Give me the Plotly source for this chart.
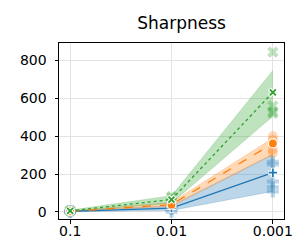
import plotly.graph_objects as go

x_labels = ["0.1", "0.01", "0.001"]
x_pos = [0, 1, 2]

blue_mean = [2, 20, 207]
blue_lo = [0, 7, 108]
blue_hi = [4, 34, 305]
orange_mean = [3, 38, 362]
orange_lo = [1, 28, 300]
orange_hi = [6, 50, 390]
green_mean = [5, 65, 632]
green_lo = [2, 45, 505]
green_hi = [9, 85, 748]

# individual runs (x index, value)
blue_pts_x = [0, 0, 0, 1, 1, 1, 2, 2, 2, 2, 2]
blue_pts_y = [1, 3, 2, 0, 15, 28, 265, 250, 160, 130, 108]
orange_pts_x = [0, 0, 0, 1, 1, 1, 2, 2, 2, 2]
orange_pts_y = [2, 4, 3, 30, 42, 48, 400, 380, 330, 312]
green_pts_x = [0, 0, 0, 1, 1, 1, 2, 2, 2, 2]
green_pts_y = [4, 7, 5, 55, 75, 82, 845, 560, 530, 520]

series = [
    ("#1f77b4", "rgba(31,119,180,0.3)", blue_mean, blue_lo, blue_hi, blue_pts_x, blue_pts_y, "solid", "cross", "cross-thin"),
    ("#ff7f0e", "rgba(255,127,14,0.3)", orange_mean, orange_lo, orange_hi, orange_pts_x, orange_pts_y, "dash", "circle", "circle"),
    ("#2ca02c", "rgba(44,160,44,0.3)", green_mean, green_lo, green_hi, green_pts_x, green_pts_y, "dot", "x", "x-thin"),
]

fig = go.Figure()
for color, fillc, mean, lo, hi, px, py, dash, ptsym, msym in series:
    fig.add_trace(go.Scatter(x=x_pos, y=lo, mode="lines", line=dict(width=0.6, color=fillc),
                             showlegend=False, hoverinfo="skip"))
    fig.add_trace(go.Scatter(x=x_pos, y=hi, mode="lines", line=dict(width=0.6, color=fillc),
                             fill="tonexty", fillcolor=fillc, showlegend=False, hoverinfo="skip"))
for color, fillc, mean, lo, hi, px, py, dash, ptsym, msym in series:
    fig.add_trace(go.Scatter(x=px, y=py, mode="markers",
                             marker=dict(symbol=ptsym, size=10, color=color, opacity=0.3, line=dict(width=0)),
                             showlegend=False))
for color, fillc, mean, lo, hi, px, py, dash, ptsym, msym in series:
    fig.add_trace(go.Scatter(x=x_pos, y=mean, mode="lines", line=dict(color=color, width=1.3, dash=dash),
                             showlegend=False))
    if msym == "circle":
        fig.add_trace(go.Scatter(x=x_pos, y=mean, mode="markers",
                                 marker=dict(symbol="circle", size=9, color=color, line=dict(color="white", width=1.2)),
                                 showlegend=False))
    else:
        fig.add_trace(go.Scatter(x=x_pos, y=mean, mode="markers",
                                 marker=dict(symbol=msym, size=7, line=dict(color="white", width=4)),
                                 showlegend=False))
        fig.add_trace(go.Scatter(x=x_pos, y=mean, mode="markers",
                                 marker=dict(symbol=msym, size=6, line=dict(color=color, width=1.8)),
                                 showlegend=False))

fig.update_layout(
    width=300, height=250,
    margin=dict(l=51, r=24, t=35, b=39),
    paper_bgcolor="white", plot_bgcolor="white",
    font=dict(family="DejaVu Sans", size=14, color="black"),
    title=dict(text="Sharpness", x=0.545, xanchor="center", xref="paper", y=0.938, yanchor="middle",
               font=dict(size=17, family="DejaVu Sans")),
    showlegend=False,
)
fig.update_xaxes(range=[-0.11, 2.11], tickvals=x_pos, ticktext=x_labels,
                 showgrid=True, gridcolor="#e3e3e3", gridwidth=1,
                 showline=True, linecolor="black", linewidth=1, mirror=True,
                 ticks="outside", ticklen=3.5, tickcolor="black", zeroline=False,
                 ticklabelstandoff=-4)
fig.update_yaxes(range=[-38, 893], tickvals=[0, 200, 400, 600, 800],
                 showgrid=True, gridcolor="#e3e3e3", gridwidth=1,
                 showline=True, linecolor="black", linewidth=1, mirror=True,
                 ticks="outside", ticklen=3.5, tickcolor="black", zeroline=False,
                 ticklabelstandoff=5)

fig.write_html("out.html")
